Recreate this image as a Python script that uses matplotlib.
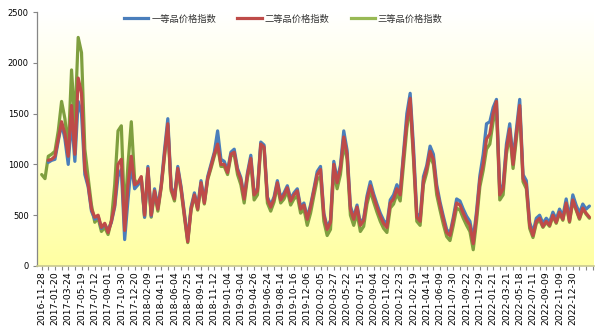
import numpy as np
import matplotlib
matplotlib.use("Agg")
import matplotlib.pyplot as plt
from matplotlib.colors import LinearSegmentedColormap
from matplotlib.lines import Line2D

plt.rcParams['font.family'] = ['Noto Sans CJK SC', 'DejaVu Sans']

# Category-axis labels (one every four samples)
tick_dates = [
    "2016-11-28", "2017-01-20", "2017-03-24", "2017-05-19", "2017-07-12",
    "2017-09-01", "2017-10-30", "2017-12-20", "2018-02-09", "2018-04-11",
    "2018-06-04", "2018-07-25", "2018-09-14", "2018-11-12", "2019-01-04",
    "2019-03-04", "2019-04-26", "2019-06-24", "2019-08-14", "2019-10-16",
    "2019-12-06", "2020-02-05", "2020-03-27", "2020-05-22", "2020-07-15",
    "2020-09-04", "2020-11-02", "2020-12-23", "2021-02-19", "2021-04-14",
    "2021-06-09", "2021-07-30", "2021-09-22", "2021-11-29", "2022-01-21",
    "2022-03-21", "2022-05-18", "2022-07-11", "2022-09-09", "2022-11-09",
    "2022-12-30",
]

series_names = ["一等品价格指数", "二等品价格指数", "三等品价格指数"]

nan = np.nan
grade1 = [
    nan, nan, 1020, 1040, 1050, 1230, 1400, 1250, 1000, 1450,
    1030, 1620, 1500, 900, 780, 540, 460, 490, 370, 410,
    350, 430, 580, 880, 950, 260, 650, 1000, 760, 800,
    870, 480, 980, 490, 760, 580, 800, 1140, 1450, 780,
    680, 980, 780, 520, 260, 580, 720, 580, 840, 640,
    880, 1000, 1120, 1330, 1050, 1030, 940, 1120, 1150, 960,
    870, 680, 920, 1090, 720, 760, 1220, 1190, 680, 600,
    680, 840, 670, 720, 790, 660, 720, 760, 580, 620,
    480, 600, 760, 930, 980, 520, 380, 450, 1030, 850,
    990, 1330, 1140, 590, 480, 600, 420, 470, 690, 830,
    710, 610, 520, 450, 410, 650, 700, 800, 730, 1120,
    1500, 1700, 1180, 520, 470, 880, 990, 1180, 1100, 800,
    630, 490, 360, 320, 480, 660, 640, 560, 490, 440,
    260, 540, 890, 1100, 1400, 1420, 1560, 1640, 740, 800,
    1200, 1400, 1050, 1350, 1640, 900, 840, 430, 330, 470,
    500, 420, 470, 430, 530, 460, 560, 490, 660, 470,
    700, 600, 520, 610, 560, 590,
]
grade2 = [
    nan, nan, 1040, 1050, 1080, 1250, 1420, 1300, 1080, 1580,
    1100, 1850, 1700, 950, 800, 560, 480, 500, 380, 420,
    330, 440, 600, 1000, 1050, 350, 800, 1080, 800, 820,
    880, 500, 960, 500, 740, 560, 780, 1100, 1400, 760,
    660, 960, 760, 500, 240, 560, 700, 560, 820, 620,
    860, 980, 1100, 1200, 1000, 1000, 920, 1100, 1120, 940,
    850, 660, 900, 1060, 700, 740, 1200, 1170, 660, 580,
    660, 820, 650, 700, 770, 640, 700, 740, 560, 600,
    460, 580, 740, 900, 950, 500, 360, 430, 1000, 820,
    960, 1270, 1100, 560, 460, 580, 400, 450, 660, 790,
    680, 580, 490, 420, 380, 620, 660, 760, 700, 1080,
    1420, 1650, 1100, 480, 440, 840, 960, 1130, 1050, 760,
    600, 460, 330, 300, 450, 620, 600, 520, 450, 400,
    220, 500, 850, 1000, 1250, 1300, 1500, 1620, 700, 760,
    1150, 1350, 1000, 1300, 1580, 860, 800, 400, 300, 440,
    470, 390, 440, 400, 500, 430, 530, 460, 620, 440,
    650, 560, 470, 570, 520, 480,
]
grade3 = [
    900, 860, 1080, 1100, 1130, 1330, 1620, 1450, 1150, 1930,
    1400, 2250, 2100, 1150, 870, 600, 430, 470, 340, 380,
    310, 450, 800, 1330, 1380, 480, 1000, 1420, 850, 800,
    860, 480, 940, 480, 720, 540, 770, 1080, 1380, 740,
    640, 940, 740, 480, 230, 550, 690, 550, 810, 610,
    850, 960, 1080, 1180, 980, 980, 900, 1080, 1100, 900,
    800, 620, 870, 1020, 650, 700, 1180, 1150, 620, 540,
    630, 790, 620, 660, 740, 600, 660, 690, 520, 560,
    400, 520, 690, 850, 880, 440, 300, 360, 940, 760,
    900, 1200, 1050, 500, 400, 520, 340, 390, 610, 740,
    630, 530, 440, 370, 330, 570, 610, 710, 640, 1000,
    1350, 1600, 1050, 440, 400, 800, 920, 1090, 1000, 700,
    550, 410, 290, 250, 400, 570, 550, 470, 400, 340,
    160, 440, 780, 940, 1150, 1200, 1420, 1550, 650, 700,
    1100, 1300, 960, 1250, 1550, 830, 760, 370, 280, 420,
    450, 380, 430, 390, 490, 420, 520, 450, 610, 430,
    640, 550, 460, 560, 510, 470,
]

colors = ["#4A7EBB", "#BE4B48", "#7F9F3F"]
legend_colors = ["#4A7EBB", "#BE4B48", "#98B954"]

fig = plt.figure(figsize=(6.04, 3.31), dpi=100)
ax = fig.add_axes([0.0613, 0.1964, 0.9217, 0.7673])

# plot-area fill: white at the top fading to pale yellow at the bottom
grad = np.linspace(0, 1, 256).reshape(-1, 1)
cmap = LinearSegmentedColormap.from_list("bg", ["#FFFFFF", "#FFFFA2"])
ax.imshow(grad, extent=[0, 1, 0, 1], transform=ax.transAxes, aspect="auto",
          cmap=cmap, origin="upper", zorder=0, interpolation="bicubic")

x = np.arange(len(grade2))
lw = 2.3
kw = dict(solid_joinstyle="round", solid_capstyle="round", zorder=3)
ax.plot(x, grade3, color=colors[2], lw=lw, **kw)
ax.plot(x, grade1, color=colors[0], lw=lw, **kw)
ax.plot(x, grade2, color=colors[1], lw=lw, **kw)

ax.set_xlim(-1.4, 166.3)
ax.set_ylim(0, 2500)
ax.set_yticks(np.arange(0, 2501, 500))
ax.set_xticks(np.arange(0, 4 * len(tick_dates), 4))
ax.set_xticklabels(tick_dates, rotation=90, fontsize=6.7, family="DejaVu Sans")
ax.set_xticks(np.arange(0, 167, 2), minor=True)
for lab in ax.get_yticklabels():
    lab.set_fontsize(6.0)
    lab.set_family("DejaVu Sans")

ax.tick_params(axis="x", which="both", length=3, width=0.8, color="#868686", pad=1)
ax.tick_params(axis="y", length=3, width=0.8, color="#868686", pad=3)
for s in ["top", "right"]:
    ax.spines[s].set_visible(False)
ax.spines["left"].set_color("#868686")
ax.spines["bottom"].set_color("#C8C890")
ax.spines["left"].set_linewidth(0.9)
ax.spines["bottom"].set_linewidth(1.2)

handles = [Line2D([], [], color=c, lw=2.3) for c in legend_colors]
leg = fig.legend(handles, series_names, loc="center", bbox_to_anchor=(0.469, 0.943),
                 ncol=3, frameon=False, fontsize=6.7, handlelength=2.6,
                 handletextpad=0.3, columnspacing=2.3)
for t in leg.get_texts():
    t.set_color("#333333")

fig.savefig("out.png", dpi=100)
